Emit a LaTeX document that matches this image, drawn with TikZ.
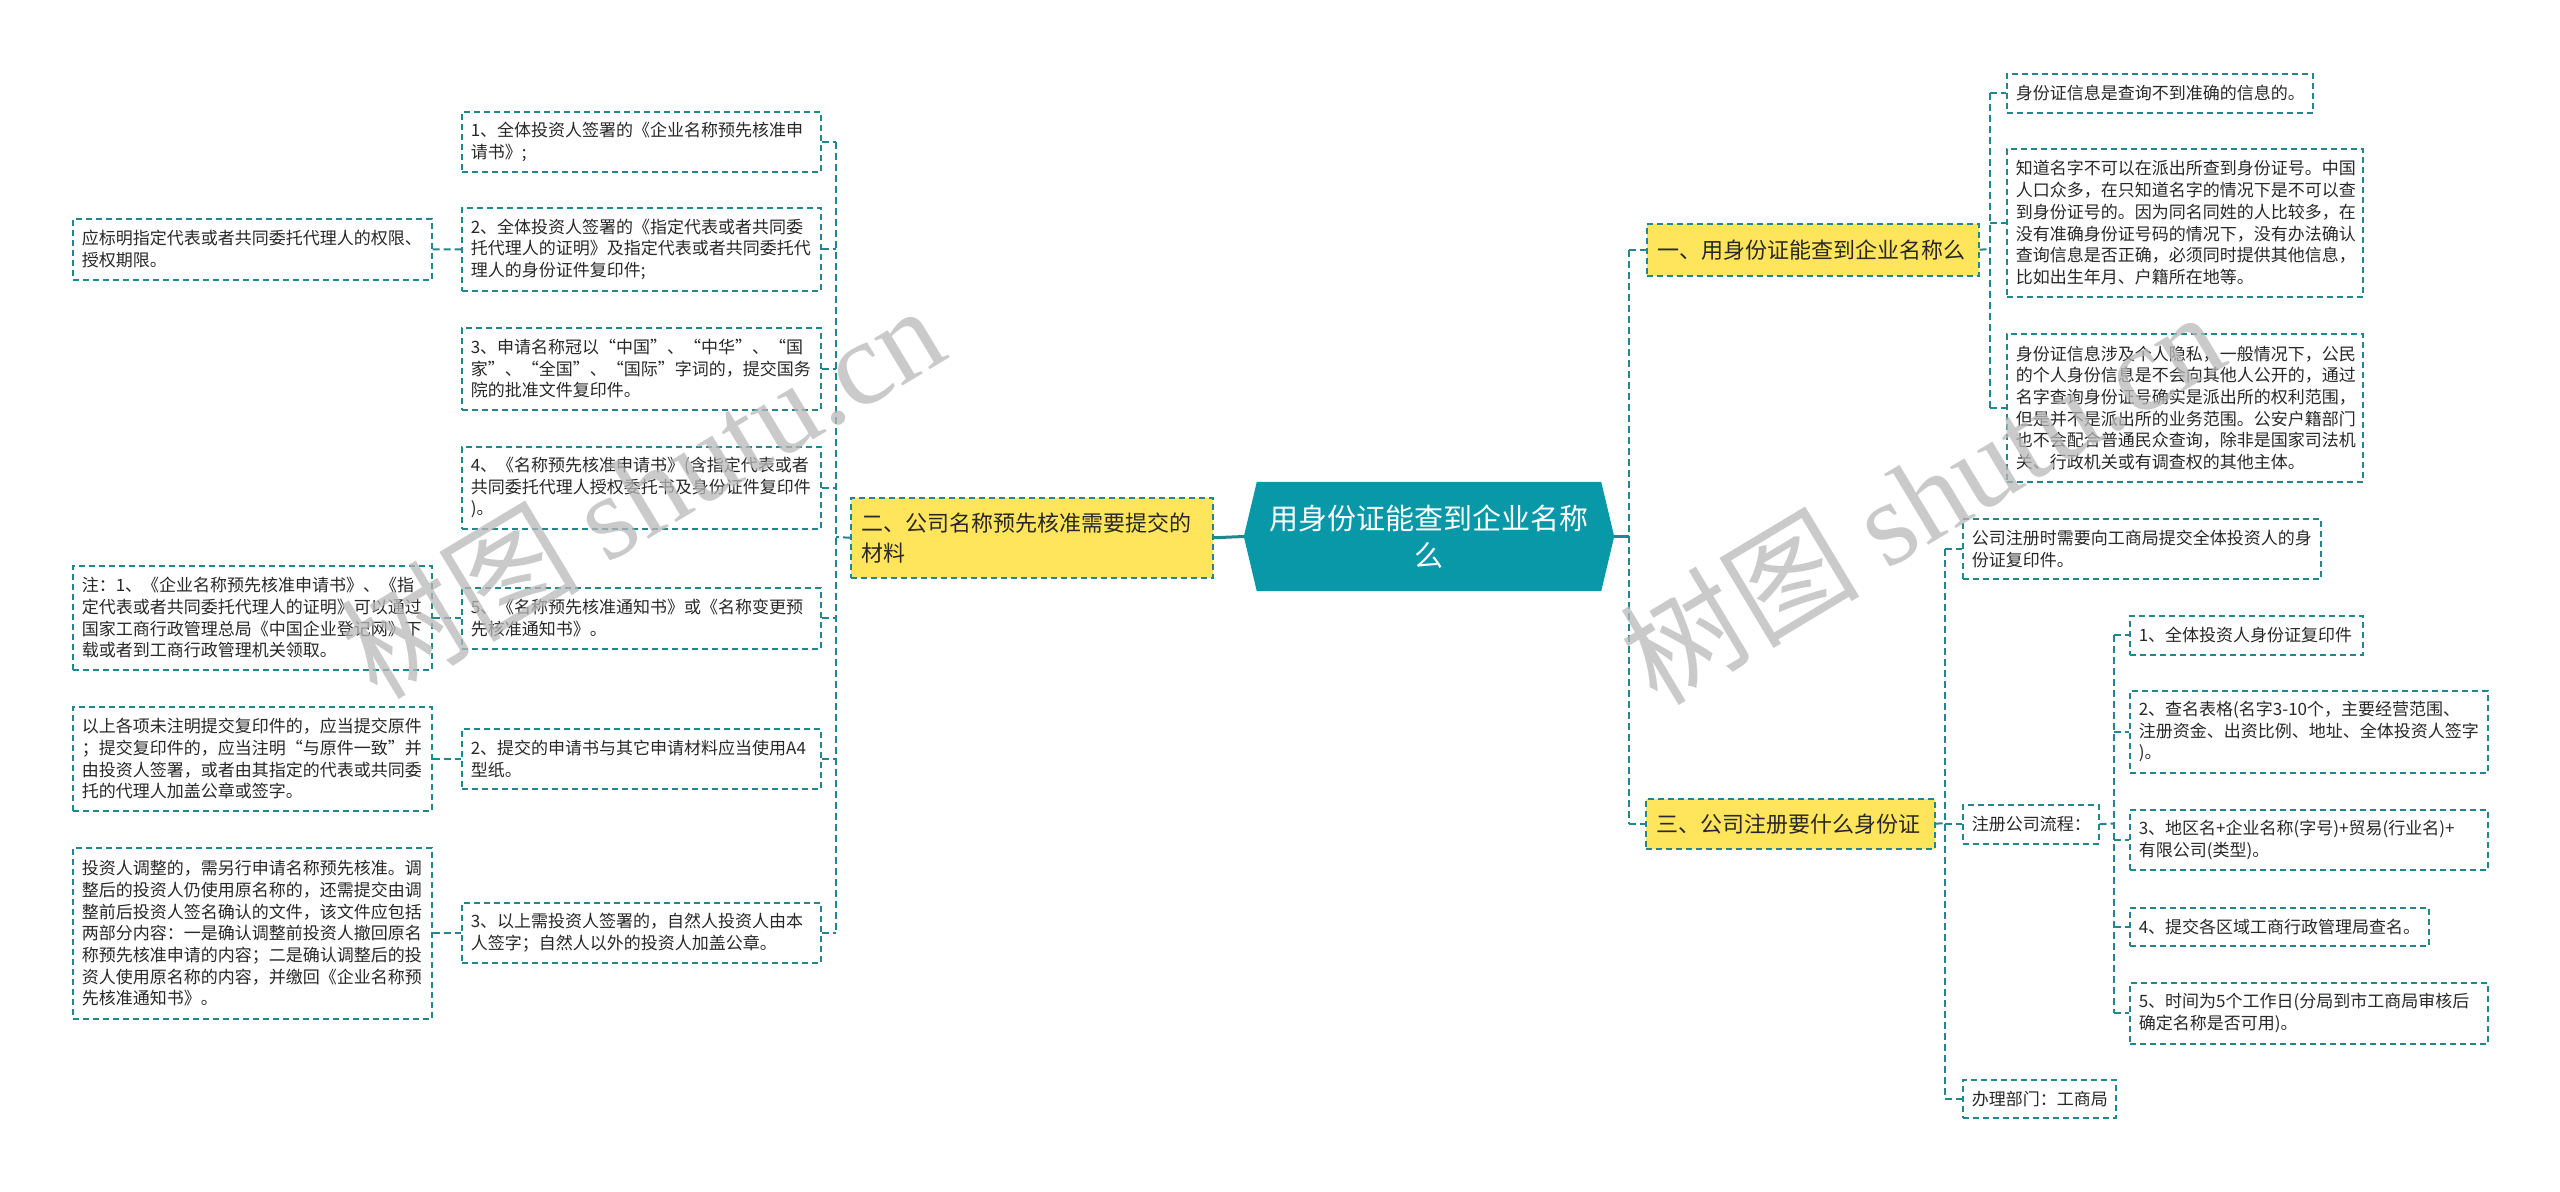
\documentclass[tikz,border=0pt]{standalone}
\usepackage{fontspec}
\setmainfont{Noto Sans CJK SC}
\newfontfamily\wmlatin{Liberation Serif}
\usetikzlibrary{backgrounds}
\definecolor{tl}{RGB}{33,135,143}
\definecolor{cfill}{RGB}{9,152,168}
\definecolor{yfill}{RGB}{255,229,92}
\definecolor{txt}{RGB}{40,40,40}
\definecolor{wmc}{RGB}{185,185,185}
\tikzset{
  conn/.style={draw=tl, line width=2bp, dash pattern=on 7bp off 4bp},
  mainconn/.style={draw=tl, line width=3bp},
  cbox/.style={draw=tl, line width=1.5bp, dash pattern=on 6bp off 4bp, fill=white,
    anchor=north west, align=left, inner xsep=9bp, inner ysep=0bp,
    font=\fontsize{17bp}{21.7bp}\selectfont, text=txt},
  ybox/.style={cbox, fill=yfill, inner xsep=11bp, font=\fontsize{22bp}{30bp}\selectfont},
  wm/.style={rotate=31, text=wmc, text opacity=0.75, inner sep=0pt,
    font=\fontsize{120bp}{120bp}\selectfont},
}
\begin{document}
\begin{tikzpicture}[x=1bp, y=-1bp]
\useasboundingbox (0,0) rectangle (2560,1191);

% centre
\node[text=white, align=center, minimum width=370bp, minimum height=109bp, inner sep=0pt,
  font=\fontsize{29bp}{36.7bp}\selectfont] (C) at (1429,536.5) {用身份证能查到企业名称\\么};

% main branches
\node[ybox, text width=340bp, minimum height=80bp] (B2) at (850,497) {二、公司名称预先核准需要提交的\\材料};
\node[ybox, text width=310bp, minimum height=52bp] (B1) at (1646,223) {一、用身份证能查到企业名称么};
\node[ybox, text width=267bp, minimum height=50bp] (B3) at (1645,798) {三、公司注册要什么身份证};

% left children
\node[cbox, text width=341bp, minimum height=60bp] (L1) at (461,111) {1、全体投资人签署的《企业名称预先核准申\\请书》;};
\node[cbox, text width=341bp, minimum height=83bp] (L2) at (461,207) {2、全体投资人签署的《指定代表或者共同委\\托代理人的证明》及指定代表或者共同委托代\\理人的身份证件复印件;};
\node[cbox, text width=341bp, minimum height=82bp] (L3) at (461,327) {3、申请名称冠以“中国”、“中华”、“国\\家”、“全国”、“国际”字词的，提交国务\\院的批准文件复印件。};
\node[cbox, text width=341bp, minimum height=82bp] (L4) at (461,446) {4、《名称预先核准申请书》(含指定代表或者\\共同委托代理人授权委托书及身份证件复印件\\)。};
\node[cbox, text width=341bp, minimum height=61bp] (L5) at (461,587) {5、《名称预先核准通知书》或《名称变更预\\先核准通知书》。};
\node[cbox, text width=341bp, minimum height=60bp] (L6) at (461,728) {2、提交的申请书与其它申请材料应当使用A4\\型纸。};
\node[cbox, text width=341bp, minimum height=60bp] (L7) at (461,902) {3、以上需投资人签署的，自然人投资人由本\\人签字；自然人以外的投资人加盖公章。};

% left grandchildren
\node[cbox, text width=341bp, minimum height=61bp] (G2) at (72,218) {应标明指定代表或者共同委托代理人的权限、\\授权期限。};
\node[cbox, text width=341bp, minimum height=104bp] (G5) at (72,565) {注：1、《企业名称预先核准申请书》、《指\\定代表或者共同委托代理人的证明》可以通过\\国家工商行政管理总局《中国企业登记网》下\\载或者到工商行政管理机关领取。};
\node[cbox, text width=341bp, minimum height=104bp] (G6) at (72,706) {以上各项未注明提交复印件的，应当提交原件\\；提交复印件的，应当注明“与原件一致”并\\由投资人签署，或者由其指定的代表或共同委\\托的代理人加盖公章或签字。};
\node[cbox, text width=341bp, minimum height=171bp] (G7) at (72,847) {投资人调整的，需另行申请名称预先核准。调\\整后的投资人仍使用原名称的，还需提交由调\\整前后投资人签名确认的文件，该文件应包括\\两部分内容：一是确认调整前投资人撤回原名\\称预先核准申请的内容；二是确认调整后的投\\资人使用原名称的内容，并缴回《企业名称预\\先核准通知书》。};

% right, branch 1
\node[cbox, text width=288bp, minimum height=39bp] (RC1) at (2006,73) {身份证信息是查询不到准确的信息的。};
\node[cbox, text width=338bp, minimum height=148bp] (RC2) at (2006,148) {知道名字不可以在派出所查到身份证号。中国\\人口众多，在只知道名字的情况下是不可以查\\到身份证号的。因为同名同姓的人比较多，在\\没有准确身份证号码的情况下，没有办法确认\\查询信息是否正确，必须同时提供其他信息，\\比如出生年月、户籍所在地等。};
\node[cbox, text width=338bp, minimum height=148bp] (RC3) at (2006,333) {身份证信息涉及个人隐私，一般情况下，公民\\的个人身份信息是不会向其他人公开的，通过\\名字查询身份证号确实是派出所的权利范围，\\但是并不是派出所的业务范围。公安户籍部门\\也不会配合普通民众查询，除非是国家司法机\\关、行政机关或有调查权的其他主体。};

% right, branch 3
\node[cbox, text width=340bp, minimum height=60bp] (RD1) at (1962,518) {公司注册时需要向工商局提交全体投资人的身\\份证复印件。};
\node[cbox, text width=118bp, minimum height=39bp] (RD2) at (1962,804) {注册公司流程：};
\node[cbox, text width=135bp, minimum height=38bp] (RD3) at (1962,1079) {办理部门：工商局};

\node[cbox, text width=215bp, minimum height=39bp] (S1) at (2129,615) {1、全体投资人身份证复印件};
\node[cbox, text width=340bp, minimum height=82bp] (S2) at (2129,690) {2、查名表格(名字3-10个，主要经营范围、\\注册资金、出资比例、地址、全体投资人签字\\)。};
\node[cbox, text width=340bp, minimum height=60bp] (S3) at (2129,809) {3、地区名+企业名称(字号)+贸易(行业名)+\\有限公司(类型)。};
\node[cbox, text width=281bp, minimum height=38bp] (S4) at (2129,907) {4、提交各区域工商行政管理局查名。};
\node[cbox, text width=340bp, minimum height=61bp] (S5) at (2129,982) {5、时间为5个工作日(分局到市工商局审核后\\确定名称是否可用)。};

% background: white page and hexagon
\begin{scope}[on background layer]
  \fill[white] (0,0) rectangle (2560,1191);
  \fill[cfill] (C.west) -- ([xshift=13bp]C.north west) -- ([xshift=-13bp]C.north east)
    -- (C.east) -- ([xshift=-13bp]C.south east) -- ([xshift=13bp]C.south west) -- cycle;
\end{scope}

% junctions
\coordinate (lj) at (836,537);
\coordinate (rj) at (1629,536.5);
\coordinate (r1j) at (1990,249);
\coordinate (r3j) at (1945,823);
\coordinate (sj) at (2114,823.5);

% centre to branches
\draw[mainconn] (C.west) -- (B2.east);
\draw[mainconn] (C.east) -- (rj);

% left tree
\draw[conn] (B2.west) -- (lj);
\draw[conn] (L1.east -| lj) -- (L7.east -| lj);
\foreach \n in {L1,L2,L3,L4,L5,L6,L7} \draw[conn] (\n.east) -- (\n.east -| lj);
\draw[conn] (G2.east) -- (L2.west);
\draw[conn] (G5.east) -- (L5.west |- G5.east);
\draw[conn] (G6.east) -- (L6.west |- G6.east);
\draw[conn] (G7.east) -- (L7.west |- G7.east);

% right tree
\draw[conn] (B1.west -| rj) -- (B3.west -| rj);
\draw[conn] (B1.west -| rj) -- (B1.west);
\draw[conn] (B3.west -| rj) -- (B3.west);

\draw[conn] (B1.east) -- (r1j);
\draw[conn] (RC1.west -| r1j) -- (RC3.west -| r1j);
\foreach \n in {RC1,RC2,RC3} \draw[conn] (\n.west -| r1j) -- (\n.west);

\draw[conn] (B3.east) -- (r3j);
\draw[conn] (RD1.west -| r3j) -- (RD3.west -| r3j);
\foreach \n in {RD1,RD2,RD3} \draw[conn] (\n.west -| r3j) -- (\n.west);

\draw[conn] (RD2.east) -- (sj);
\draw[conn] (S1.west -| sj) -- (S5.west -| sj);
\foreach \n in {S1,S2,S3,S4,S5} \draw[conn] (\n.west -| sj) -- (\n.west);

% watermarks
\node[wm] (wm1) at (641,490) {树图 {\wmlatin shutu.cn}};
\node[wm] (wm2) at (1921,496) {树图 {\wmlatin shutu.cn}};
\end{tikzpicture}
\end{document}
